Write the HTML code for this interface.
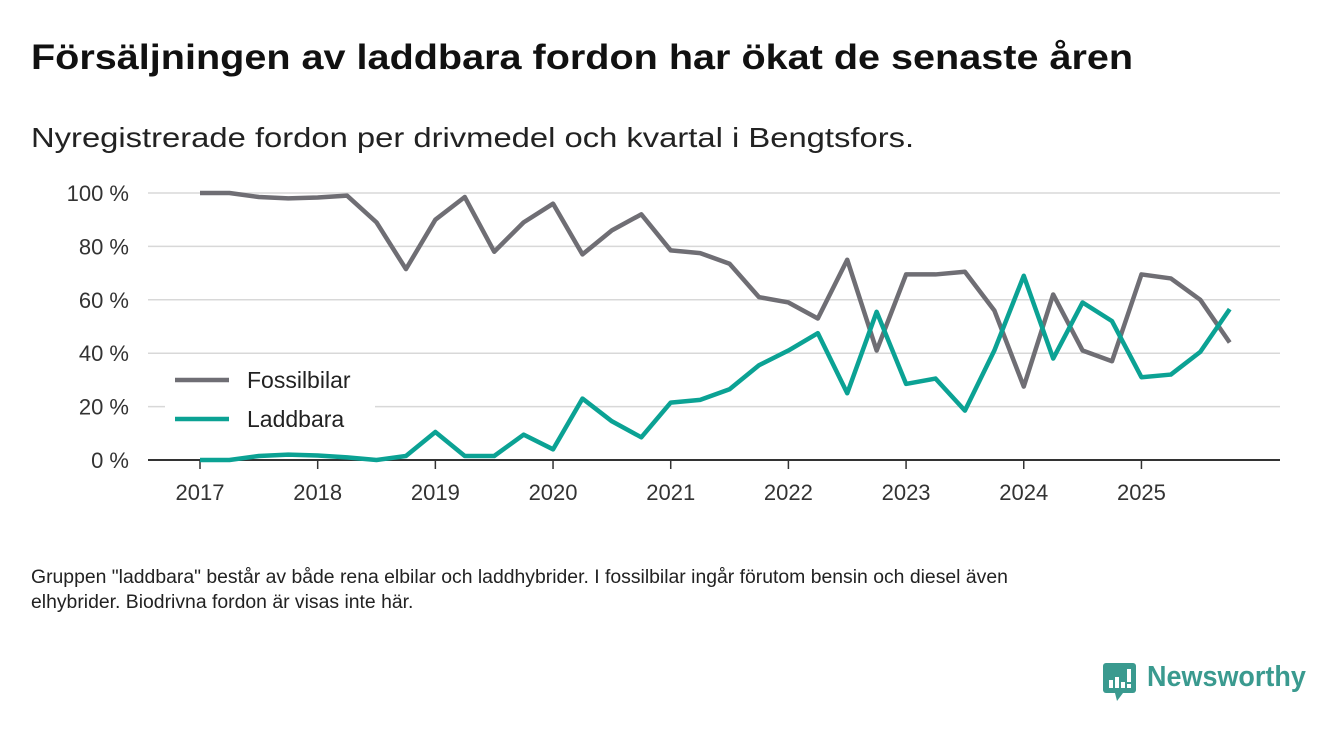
<!DOCTYPE html>
<html><head><meta charset="utf-8"><style>
body{margin:0;width:1340px;height:733px;background:#fff;font-family:"Liberation Sans",sans-serif;overflow:hidden;position:relative;color:#1a1a1a}
.t{position:absolute;white-space:nowrap;transform-origin:0 0}
</style></head><body>
<div class="t" style="left:31px;top:38px;font-size:35px;font-weight:bold;color:#111;transform:scaleX(1.131)">Försäljningen av laddbara fordon har ökat de senaste åren</div>
<div class="t" style="left:31px;top:122px;font-size:28px;color:#222;transform:scaleX(1.17)">Nyregistrerade fordon per drivmedel och kvartal i Bengtsfors.</div>
<svg id="chart" width="1340" height="733" style="position:absolute;left:0;top:0"></svg>
<div class="t" style="left:31px;top:565px;font-size:19px;line-height:25px;color:#222;transform:scaleX(1.02)">Gruppen "laddbara" består av både rena elbilar och laddhybrider. I fossilbilar ingår förutom bensin och diesel även<br>elhybrider. Biodrivna fordon är visas inte här.</div>
<div style="position:absolute;left:1103px;top:663px;">
<svg width="34" height="40"><rect x="0" y="0" width="33" height="30" rx="3" fill="#3a9a8f"/><polygon points="12,30 20,30 14,38" fill="#3a9a8f"/><rect x="6" y="17" width="4" height="8" fill="#fff"/><rect x="12" y="14" width="4" height="11" fill="#fff"/><rect x="18" y="19" width="4" height="6" fill="#fff"/><rect x="24" y="6" width="4" height="13" fill="#fff"/><rect x="24" y="21" width="4" height="4" fill="#fff"/></svg>
<span class="t" style="left:44px;top:-2px;font-size:29px;font-weight:bold;color:#3a9a8f;transform:scaleX(0.93)">Newsworthy</span></div>
<script>
const years=["2017","2018","2019","2020","2021","2022","2023","2024","2025"];
const yTicks=[0,20,40,60,80,100];
const fossil=[100,100,98.5,98,98.3,99,89,71.5,90,98.5,78,89,96,77,86,92,78.5,77.5,73.5,61,59,53,75,41,69.5,69.5,70.5,56,27.5,62,41,37,69.5,68,60,44];
const laddbara=[0,0,1.5,2,1.7,1,0,1.5,10.5,1.5,1.5,9.5,4,23,14.5,8.5,21.5,22.5,26.5,35.5,41,47.5,25,55.5,28.5,30.5,18.5,41,69,38,59,52,31,32,40.5,56.5];
const svg=document.getElementById('chart');const NS="http://www.w3.org/2000/svg";
const X=i=>200+i*29.42, Y=v=>460-v*2.67;
function el(t,a){const e=document.createElementNS(NS,t);for(const k in a)e.setAttribute(k,a[k]);svg.appendChild(e);return e;}
yTicks.forEach(v=>{
 const g=el('line',{x1:148,x2:1280,y1:Y(v),y2:Y(v),stroke:v===0?'#333':'#d8d8d8','stroke-width':v===0?2:1.5});
 
 
 const t=el('text',{x:129,y:Y(v)+8,'text-anchor':'end','font-size':22,fill:'#333','font-family':'Liberation Sans'});t.textContent=v+' %';
 
 
});
years.forEach((yr,i)=>{
 const x=X(i*4);
 const tk=el('line',{x1:x,x2:x,y1:460,y2:469,stroke:'#333','stroke-width':1.5});
 
 
 const t=el('text',{x:x,y:500,'text-anchor':'middle','font-size':22,fill:'#333','font-family':'Liberation Sans'});t.textContent=yr;
 
 
});
function line(d,c,n){const p=el('polyline',{points:d.map((v,i)=>X(i)+','+Y(v)).join(' '),fill:'none',stroke:c,'stroke-width':4.5,'stroke-linejoin':'round'});
 
 }
line(fossil,'#6f6e74','fossilbilar-line');
line(laddbara,'#0ba294','laddbara-line');
const bg=el('rect',{x:165,y:360,width:210,height:76,fill:'#fff'});


[['Fossilbilar','#6f6e74',380],['Laddbara','#0ba294',419]].forEach(([n,c,y])=>{
 const l=el('line',{x1:175,x2:229,y1:y,y2:y,stroke:c,'stroke-width':4.5});
 
 
 const t=el('text',{x:247,y:y+8,'font-size':23,fill:'#222','font-family':'Liberation Sans'});t.textContent=n;
 
 
});
</script>
</body></html>
